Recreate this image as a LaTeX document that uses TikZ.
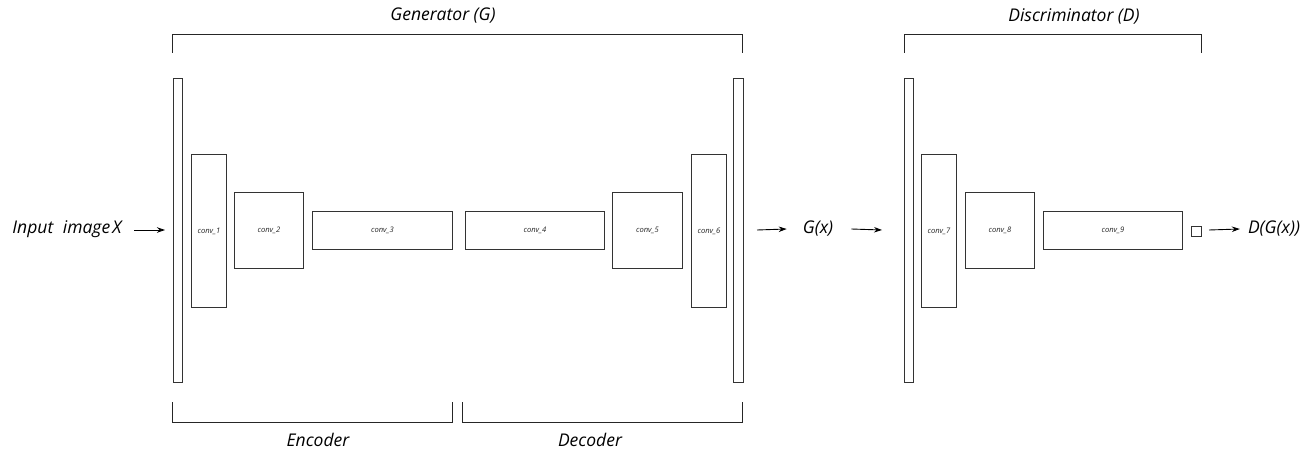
\documentclass[tikz,border=0pt]{standalone}
\usepackage{fontspec}
\setmainfont{Open Sans}
\usetikzlibrary{arrows.meta}
\tikzset{
  layer/.style={draw=black!80, line width=0.9pt, fill=white},
  lbl/.style={font=\itshape\fontsize{7.6}{8}\selectfont, text=black!85, inner sep=0pt},
  big/.style={font=\itshape\fontsize{17.5}{19}\selectfont, text=black, inner sep=0pt},
  brace/.style={draw=black!85, line width=0.9pt},
  flow/.style={draw=black, line width=0.9pt, -{Stealth[length=8pt,width=5.5pt]}},
}
\newcommand{\layerbox}[6]{% name, x1, y1, x2, y2, label
  \node[layer, minimum width=#4-#2, minimum height=#5-#3, inner sep=0pt, anchor=north west] (#1) at (#2,#3) {};
  \node[lbl] at (#1.center) {#6};
}
\begin{document}
\begin{tikzpicture}[x=1pt, y=-1pt]
\useasboundingbox (0,0) rectangle (1312,452);

% generator stack
\layerbox{bar1}{173}{78}{182}{382}{}
\layerbox{c1}{191}{154}{226}{307}{conv\_1}
\layerbox{c2}{234}{192}{303}{268}{conv\_2}
\layerbox{c3}{312}{211}{452}{249}{conv\_3}
\layerbox{c4}{465}{211}{604}{249}{conv\_4}
\layerbox{c5}{612}{192}{682}{268}{conv\_5}
\layerbox{c6}{691}{154}{726}{307}{conv\_6}
\layerbox{bar2}{733}{78}{742.5}{382}{}

% discriminator stack
\layerbox{bar3}{904}{78}{913}{382}{}
\layerbox{c7}{921}{154}{956}{307}{conv\_7}
\layerbox{c8}{965}{192}{1034}{268}{conv\_8}
\layerbox{c9}{1043}{211}{1182}{249}{conv\_9}
\layerbox{out}{1191}{226}{1201}{236}{}

% inputs and outputs
\node[big] (inp) at (67,229) {Input\hspace{0.55em}image\hspace{0.12em}X};
\node[big] (gx) at (818,229) {G(x)};
\node[big] (dgx) at (1274,229) {D(G(x))};

\coordinate (a1s) at (134,230);
\draw[flow] (a1s) -- ([xshift=-8pt]bar1.west |- a1s);
\coordinate (a2s) at (757,230);
\draw[flow] (a2s) -- ([xshift=-16pt]gx.west);
\coordinate (a3e) at (882,230);
\draw[flow] ([xshift=18pt]gx.east) -- (a3e);
\coordinate (a4s) at (1209,230);
\draw[flow] (a4s) -- ([xshift=-8pt]dgx.west);

% brackets
\draw[brace] (172,53) -- (172,34) -- (742.5,34) -- (742.5,53);
\node[big] (gen) at (443,16) {Generator (G)};
\draw[brace] (904,53) -- (904,34) -- (1201,34) -- (1201,53);
\node[big] (dis) at (1074,16) {Discriminator (D)};
\draw[brace] (172,402) -- (172,422) -- (452,422) -- (452,402);
\node[big] (enc) at (318,440) {Encoder};
\draw[brace] (462,402) -- (462,422) -- (742.5,422) -- (742.5,402);
\node[big] (dec) at (590,440) {Decoder};
\end{tikzpicture}
\end{document}
